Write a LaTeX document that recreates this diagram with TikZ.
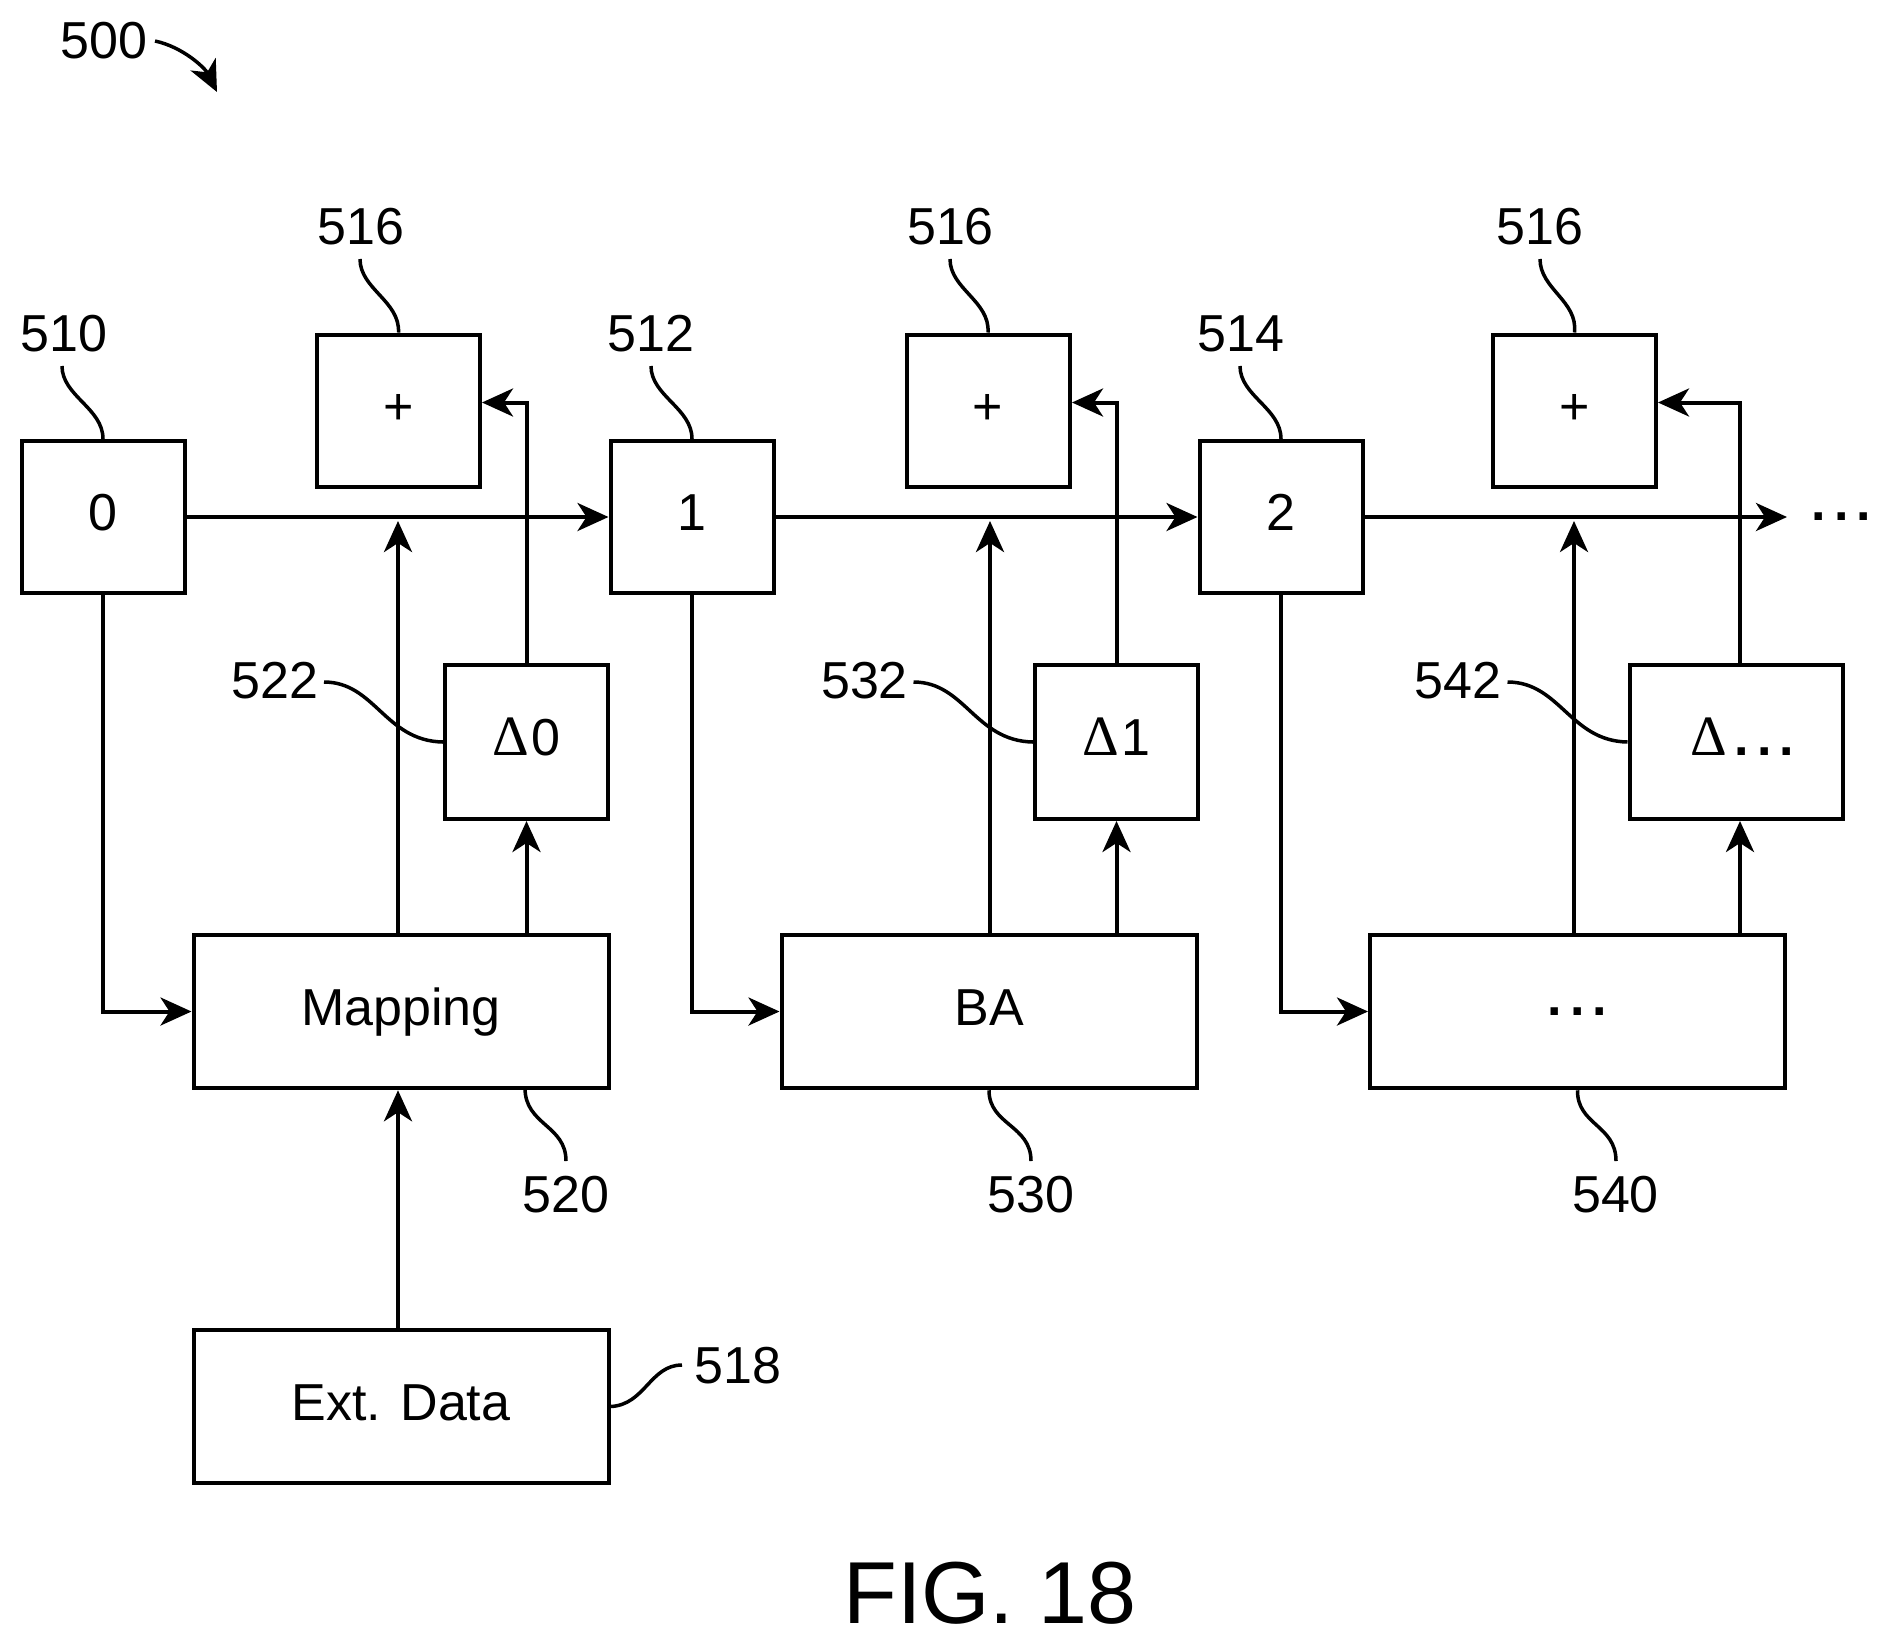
\documentclass[tikz,border=0pt]{standalone}
\usepackage{fontspec}
\setmainfont{Liberation Sans}
\newfontfamily\deltafont{Liberation Serif}
\usetikzlibrary{arrows.meta}
\newcommand{\fiftytwo}{\fontsize{52}{60}\selectfont}
\newcommand{\threedots}{\textbf{.\kern8pt.\kern8pt.}}
\newcommand{\Dl}{{\deltafont\fontsize{57}{60}\selectfont Δ}}
\tikzset{
  boxbase/.style={draw,line width=4pt,inner sep=0pt,font=\fiftytwo,align=center,text height=37pt,text depth=10pt},
  smallbox/.style={boxbase,minimum width=163pt,minimum height=152pt},
  deltabox/.style={boxbase,minimum width=163pt,minimum height=154pt},
  widebox/.style={boxbase,minimum width=415pt,minimum height=153.5pt},
  dotsnode/.style={inner sep=0pt,font=\fiftytwo,text height=37pt,text depth=10pt},
  lab/.style={inner sep=0pt,font=\fiftytwo,text height=37pt,text depth=0pt},
  arr/.style={line width=4pt,-{Stealth[length=31pt,width=28pt,inset=9pt]}},
  lead/.style={line width=3.5pt},
}
\begin{document}
\begin{tikzpicture}[x=1pt,y=-1pt]
\useasboundingbox (0,0) rectangle (1889,1644);

% main boxes
\node[smallbox] (n0) at (103,517) {0};
\node[smallbox] (n1) at (692,517) {1};
\node[smallbox] (n2) at (1281,517) {2};
\node[smallbox] (p0) at (398.5,410.5) {+};
\node[smallbox] (p1) at (988,410.5) {+};
\node[smallbox] (p2) at (1574.5,410.5) {+};
\node[deltabox] (d0) at (526.5,742) {\Dl\kern2pt 0};
\node[deltabox] (d1) at (1116.5,742) {\Dl\kern2pt 1};
\node[deltabox,minimum width=213pt] (d2) at (1736,742) {\kern12pt\Dl\kern8pt\threedots};
\node[widebox] (m0) at (401,1011.5) {Mapping};
\node[widebox] (m1) at (989,1011.5) {BA};
\node[widebox] (m2) at (1577.5,1011.5) {\raisebox{10pt}{\threedots}};
\node[widebox] (e0) at (401,1406.5) {Ext. Data};
\node[dotsnode] (more) at (1841.5,517) {\raisebox{10pt}{\threedots}};

% reference numerals
\node[lab] (l500) at (104,40) {500};
\node[lab] (l510) at (64,333) {510};
\node[lab] (l512) at (651,333) {512};
\node[lab] (l514) at (1241,333) {514};
\node[lab] (l516a) at (361,226) {516};
\node[lab] (l516b) at (950.5,226) {516};
\node[lab] (l516c) at (1540,226) {516};
\node[lab] (l522) at (275,680) {522};
\node[lab] (l532) at (864.5,680) {532};
\node[lab] (l542) at (1458,680) {542};
\node[lab] (l520) at (566,1194) {520};
\node[lab] (l530) at (1031,1194) {530};
\node[lab] (l540) at (1615.5,1194) {540};
\node[lab] (l518) at (738,1365) {518};
\node[inner sep=0pt,font=\fontsize{88}{100}\selectfont,text height=63pt,text depth=0pt] (fig) at (990,1591.5) {FIG. 18};

% free ends
\coordinate (j0) at (398,521);
\coordinate (j1) at (990,521);
\coordinate (j2) at (1574,521);
\coordinate (i0) at (482,402.5);
\coordinate (i1) at (1072,402.5);
\coordinate (i2) at (1658,402.5);
\coordinate (r2) at (1740,665);
\coordinate (out) at (1787,517);

% connectors
\draw[arr] (n0.east) -- (n1.west);
\draw[arr] (n1.east) -- (n2.west);
\draw[arr] (n2.east) -- (out);
\draw[arr] (n0.south) |- (m0.west);
\draw[arr] (n1.south) |- (m1.west);
\draw[arr] (n2.south) |- (m2.west);
\draw[arr] (m0.north -| j0) -- (j0);
\draw[arr] (m1.north -| j1) -- (j1);
\draw[arr] (m2.north -| j2) -- (j2);
\draw[arr] (m0.north -| d0) -- (d0.south);
\draw[arr] (m1.north -| d1) -- (d1.south);
\draw[arr] (m2.north -| r2) -- (d2.south -| r2);
\draw[arr] (d0.north) |- (i0);
\draw[arr] (d1.north) |- (i1);
\draw[arr] (r2) |- (i2);
\draw[arr] (e0.north -| j0) -- (m0.south -| j0);

% leaders
\coordinate (a500) at (155,41);
\coordinate (b500) at (217,92);
\draw[arr,line width=3.5pt] (a500) .. controls (183,47) and (205,68) .. (b500);
\coordinate (a510) at (62,366);
\draw[lead] (a510) .. controls (62,396) and (103,408) .. (n0.north);
\coordinate (a512) at (651,366);
\draw[lead] (a512) .. controls (651,396) and (692,408) .. (n1.north);
\coordinate (a514) at (1240,366);
\draw[lead] (a514) .. controls (1240,396) and (1281,408) .. (n2.north);
\coordinate (a516a) at (360,259);
\coordinate (a516b) at (950,259);
\coordinate (a516c) at (1540,259);
\draw[lead] (a516a) .. controls (360,289) and (400,301) .. (p0.north);
\draw[lead] (a516b) .. controls (950,289) and (990,301) .. (p1.north);
\draw[lead] (a516c) .. controls (1540,289) and (1578,301) .. (p2.north);
\coordinate (a522) at (324,682);
\coordinate (a532) at (913.5,682);
\coordinate (a542) at (1507.5,682);
\draw[lead] (a522) .. controls (375,682) and (385,741) .. (d0.west);
\draw[lead] (a532) .. controls (965,682) and (975,741) .. (d1.west);
\draw[lead] (a542) .. controls (1560,682) and (1570,741) .. (d2.west);
\coordinate (s520) at (525,1088);
\coordinate (a520) at (566,1161);
\coordinate (a530) at (1031,1161);
\coordinate (a540) at (1616,1161);
\draw[lead] (s520) .. controls (525,1125) and (566,1125) .. (a520);
\draw[lead] (m1.south) .. controls (989,1125) and (1031,1125) .. (a530);
\draw[lead] (m2.south) .. controls (1577,1125) and (1616,1125) .. (a540);
\coordinate (a518) at (682,1365);
\draw[lead] (e0.east) .. controls (645,1405) and (650,1365) .. (a518);
\end{tikzpicture}
\end{document}
